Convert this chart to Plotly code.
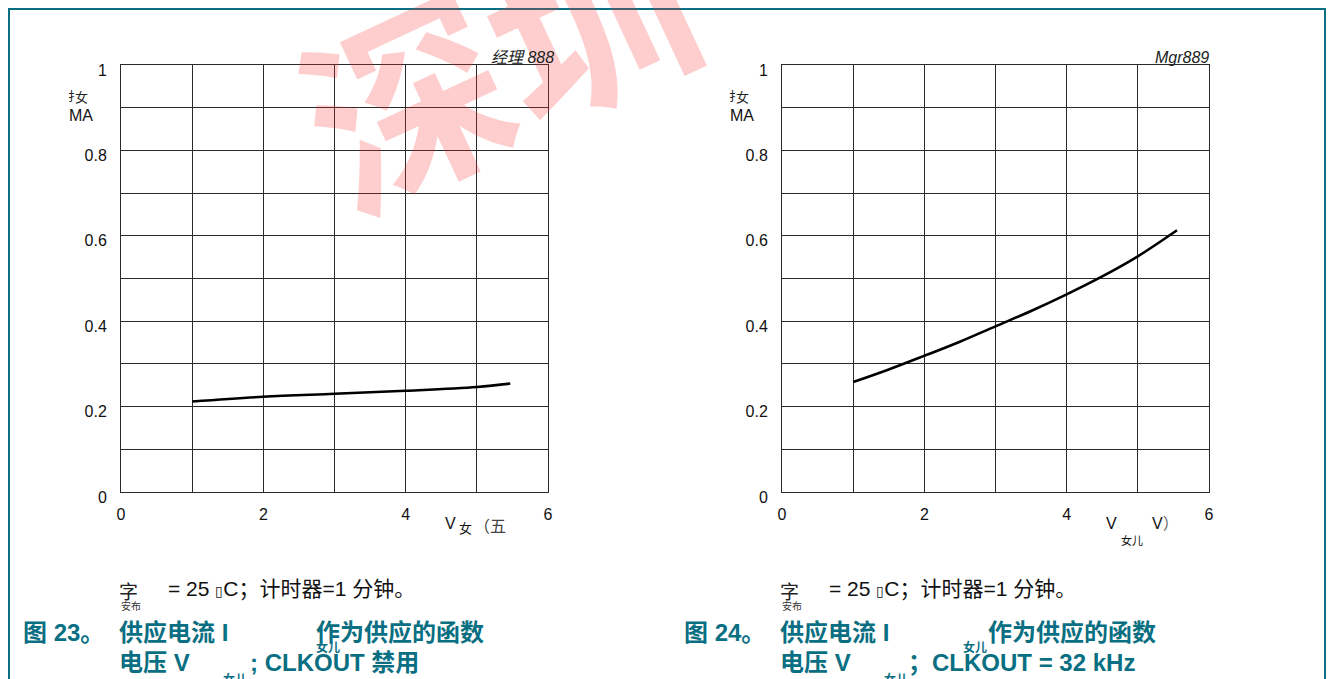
import plotly.graph_objects as go

W, H = 1330, 679

# Supply current vs supply voltage, CLKOUT disabled
vdd_a = [1.0, 2.0, 3.0, 4.0, 5.0, 5.47]
idd_a = [0.212, 0.223, 0.230, 0.237, 0.246, 0.254]

# Supply current vs supply voltage, CLKOUT = 32 kHz
vdd_b = [1.0, 1.5, 2.0, 2.5, 3.0, 3.5, 4.0, 4.5, 5.0, 5.55]
idd_b = [0.2575, 0.287, 0.319, 0.352, 0.388, 0.424, 0.463, 0.505, 0.552, 0.613]

x_ticks = [0, 1, 2, 3, 4, 5, 6]
x_text = ["0", "", "2", "", "4", "", "6"]
y_ticks = [0, 0.1, 0.2, 0.3, 0.4, 0.5, 0.6, 0.7, 0.8, 0.9, 1.0]
y_text = ["0", "", "0.2", "", "0.4", "", "0.6", "", "0.8", "", "1"]

TEAL = "#0a6f82"
FONT = "Arial, Liberation Sans, Noto Sans CJK SC"
CJK = "Noto Sans CJK SC, Arial"


def px(x):
    return x / W


def py(y):
    return 1 - y / H


fig = go.Figure()
fig.add_trace(go.Scatter(x=vdd_a, y=idd_a, mode="lines", line=dict(color="black", width=2.6, shape="spline"),
                         xaxis="x", yaxis="y", showlegend=False, hoverinfo="skip"))
fig.add_trace(go.Scatter(x=vdd_b, y=idd_b, mode="lines", line=dict(color="black", width=2.6, shape="spline"),
                         xaxis="x2", yaxis="y2", showlegend=False, hoverinfo="skip"))

ydom = [py(492), py(65)]
axis_common = dict(showgrid=True, gridcolor="#2a2a2a", gridwidth=1, zeroline=False,
                   showline=True, linecolor="#2a2a2a", linewidth=1, mirror=True, automargin=False,
                   ticks="", tickfont=dict(family=FONT, size=16, color="#111"))
xcommon = dict(axis_common, range=[0, 6], tickmode="array", tickvals=x_ticks, ticktext=x_text, ticklabelstandoff=8)
ycommon = dict(axis_common, range=[0, 1], tickmode="array", tickvals=y_ticks, ticktext=y_text,
               ticklabelstandoff=10, ticklabelshift=5)

fig.update_layout(
    width=W, height=H,
    margin=dict(l=0, r=0, t=0, b=0),
    paper_bgcolor="white", plot_bgcolor="white",
    font=dict(family=FONT, color="#111"),
    xaxis=dict(xcommon, domain=[px(121), px(548)], anchor="y"),
    yaxis=dict(ycommon, domain=ydom, anchor="x"),
    xaxis2=dict(xcommon, domain=[px(782), px(1209)], anchor="y2"),
    yaxis2=dict(ycommon, domain=ydom, anchor="x2"),
)

# frame around the figure block
shapes = [
    dict(type="line", xref="paper", yref="paper", x0=px(8), x1=px(1326), y0=py(9), y1=py(9),
         line=dict(color=TEAL, width=2)),
    dict(type="line", xref="paper", yref="paper", x0=px(9), x1=px(9), y0=py(8), y1=0,
         line=dict(color=TEAL, width=2)),
    dict(type="line", xref="paper", yref="paper", x0=px(1325), x1=px(1325), y0=py(8), y1=0,
         line=dict(color=TEAL, width=2)),
]
fig.update_layout(shapes=shapes)

ann = []


def text(x, y, s, size=16, color="#111", family=FONT, xanchor="left", yanchor="middle", **kw):
    ann.append(dict(x=px(x), y=py(y), xref="paper", yref="paper", text=s, showarrow=False,
                    xanchor=xanchor, yanchor=yanchor, font=dict(size=size, color=color, family=family), **kw))


# watermark
text(494, 52, "<b>深圳</b>", size=200, color="rgba(250,50,50,0.24)", family=CJK, xanchor="center", textangle=-25)

for off, right, tag in [(0, 556, "<i>经理 888</i>"), (661, 1211, "<i>Mgr889</i>")]:
    text(right, 57, tag, size=16, color="#222", xanchor="right")
    # y-axis unit label
    text(66 + off, 96, "扌", size=12, color="#222", family=CJK)
    text(73 + off, 97, "女", size=13, color="#222", family=CJK)
    text(67 + off, 115, "MA", size=16, color="#111")

# x-axis unit labels
text(443, 523, "V", size=16)
text(457, 527, "女", size=13, family=CJK)
text(472, 525, "（五", size=16, color="#444", family=CJK)
text(1104, 523, "V", size=16)
text(1119, 540, "女儿", size=11, family=CJK)
text(1150, 523, "V<span style='color:#666'>）</span>", size=16)

# test conditions
for off in [0, 661]:
    text(117 + off, 590, "字", size=19, color="#222", family=CJK)
    text(119 + off, 605, "安布", size=10, color="#333", family=CJK)
    text(166 + off, 589, "= 25 <span style='font-size:14px'>▯</span>C；计时器=1 分钟。", size=21, color="#111")

# captions
cap = dict(size=24, color=TEAL)
text(21, 632, "<b>图 23。</b>", **cap)
text(117, 632, "<b>供应电流 I</b>", **cap)
text(314, 646, "<b>女儿</b>", size=12, color=TEAL, family=CJK)
text(314, 632, "<b>作为供应的函数</b>", **cap)
text(117, 662, "<b>电压 V</b>", **cap)
text(221, 678, "<b>女儿</b>", size=12, color=TEAL, family=CJK)
text(248, 662, "<b>; CLKOUT 禁用</b>", **cap)

text(682, 632, "<b>图 24。</b>", **cap)
text(778, 632, "<b>供应电流 I</b>", **cap)
text(961, 646, "<b>女儿</b>", size=12, color=TEAL, family=CJK)
text(986, 632, "<b>作为供应的函数</b>", **cap)
text(778, 662, "<b>电压 V</b>", **cap)
text(882, 678, "<b>女儿</b>", size=12, color=TEAL, family=CJK)
text(906, 662, "<b>；CLKOUT = 32 kHz</b>", **cap)

fig.update_layout(annotations=ann)

page_css = (
    "document.documentElement.style.margin='0';"
    "document.documentElement.style.overflow='hidden';"
    "document.body.style.margin='0';"
    "document.body.style.overflow='hidden';"
)
fig.write_html("out.html", post_script=page_css)
